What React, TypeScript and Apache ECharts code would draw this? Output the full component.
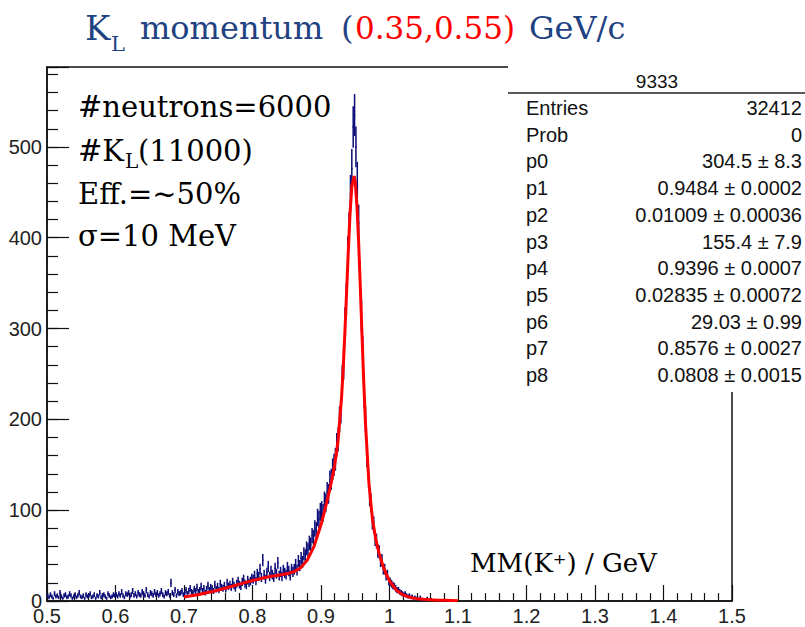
import React, { useEffect, useRef } from "react";
import * as echarts from "echarts";

// ---- Histogram: bin layout (0.5 .. 1.1 GeV, width 0.002) ----
const BIN_START = 0.5;
const BIN_WIDTH = 0.002;

// counts per bin, grouped by x-range
const counts050to060 = [6,4,7,5,3,8,5,6,4,9, 5,3,6,7,4,5,8,6,3,5, 7,4,6,9,5,4,6,3,7,5, 6,8,4,5,7,3,6,5,9,4, 6,7,5,3,8,6,4,5,7,6];
const counts060to070 = [7,5,8,6,10,6,4,8,7,9, 5,7,11,6,8,5,9,7,6,10, 8,6,12,7,5,9,8,6,10,7, 9,6,8,11,7,5,9,8,10,6, 20,9,7,12,6,10,8,9,11,7];
const counts070to080 = [9,12,8,11,14,10,9,13,11,15, 10,12,16,11,14,9,13,17,12,15, 14,11,18,13,16,12,19,15,14,17, 13,20,16,18,15,21,17,14,19,22, 18,16,21,24,19,17,23,20,22,25];
const counts080to086 = [24,28,22,30,27,35,26,45,29,24, 31,38,27,33,29,26,36,30,42,28, 32,27,34,31,29,37,33,28,35,32];
const counts086to090 = [35,40,34,44,39,47,43,52,50,58, 56,64,62,72,70,80,78,92,90,98];
const counts090to094 = [100,97,110,108,120,118,132,134,145,150, 156,172,178,200,210,244,260,306,332,382];
const counts094to096 = [408,448,476,522,535,500,462,416,356,314];
const counts096to100 = [275,228,200,160,146,115,108,88,84,69, 66,55,54,44,45,35,35,28,29,22];
const counts100to110 = [21,19,17,16,14,12,12,10,9,8, 7,8,6,5,6,4,5,3,4,3, 3,2,4,2,2,1,2,3,1,1, 2,0,1,1,0,1,0,0,1,0, 0,0,1,0,0,0,0,0,0,0];

// ---- Fit curve ----
const fitX = [0.70,0.72,0.74,0.76,0.78,0.80,0.82,0.84,0.85,0.86,0.87,0.88,0.89,0.90,0.905,0.91,0.915,0.92,0.925,0.93,0.9325,0.935,0.9375,0.94,0.9425,0.945,0.9484,0.95,0.9525,0.955,0.9575,0.96,0.9625,0.965,0.97,0.975,0.98,0.985,0.99,0.995,1.00,1.01,1.02,1.03,1.04,1.05,1.06,1.07,1.08,1.09,1.10];
const fitY = [4.3,6.8,10.1,14.0,18.3,22.5,26.1,28.7,30.0,32.1,36.3,45.0,60.4,83.9,98.3,113.8,130.5,149.7,177.3,223.9,257.5,297.8,342.7,388.0,427.9,456.5,468.0,461.1,435.1,394.0,343.5,290.2,239.4,194.7,129.3,90.8,67.8,51.9,39.6,29.9,22.2,12.0,6.6,3.9,2.6,1.8,1.3,0.9,0.7,0.5,0.3];

// ---- Axes ----
const X_MIN = 0.5, X_MAX = 1.5, X_STEP = 0.1;
const Y_MIN = 0, Y_MAX = 588, Y_STEP = 100, Y_MINOR = 20;

// ---- Stats box ----
const statsTitle = "9333";
const statsLabels = ["Entries", "Prob", "p0", "p1", "p2", "p3", "p4", "p5", "p6", "p7", "p8"];
const statsValues = ["32412", "0", "304.5 ± 8.3", "0.9484 ± 0.0002", "0.01009 ± 0.00036", "155.4 ± 7.9", "0.9396 ± 0.0007", "0.02835 ± 0.00072", "29.03 ± 0.99", "0.8576 ± 0.0027", "0.0808 ± 0.0015"];

// ---- Annotations ----
const noteLines = ["#neutrons=6000", "Eff.=~50%", "σ=10 MeV"];

const NAVY = "#0c0c78";
const TITLE_BLUE = "#1f4282";
const SERIF = "DejaVu Serif";
const SANS = "Liberation Sans";

function txt(text: string, x: number, y: number, size: number, fill: string, family: string, align = "left", extra: any = {}) {
  return {
    type: "text",
    x,
    y,
    z: 100,
    style: {
      text,
      fill,
      fontSize: size,
      fontFamily: family,
      align,
      textAlign: align,
      verticalAlign: "middle",
      textVerticalAlign: "middle",
      ...extra,
    },
  };
}

export default function App() {
  const ref = useRef<HTMLDivElement>(null);

  useEffect(() => {
    if (!ref.current) return;
    const chart = echarts.init(ref.current, null, { renderer: "svg" });

    const allCounts = [
      ...counts050to060, ...counts060to070, ...counts070to080, ...counts080to086,
      ...counts086to090, ...counts090to094, ...counts094to096, ...counts096to100, ...counts100to110,
    ];
    const histData = allCounts.map((c, i) => [BIN_START + (i + 0.5) * BIN_WIDTH, c]);
    const fitData = fitX.map((x, i) => [x, fitY[i]]);

    const statsRowY0 = 108;
    const statsRowDy = 26.7;
    const statsChildren: any[] = [
      { type: "rect", shape: { x: 508, y: 58, width: 300, height: 334 }, style: { fill: "#ffffff" }, z: 99 },
      txt(statsTitle, 657, 81, 19, "#111", SANS, "center"),
      { type: "line", z: 100, shape: { x1: 508, y1: 93, x2: 805, y2: 93 }, style: { stroke: "#222", lineWidth: 1.5 } },
    ];
    statsLabels.forEach((lab, i) => {
      const y = statsRowY0 + i * statsRowDy;
      statsChildren.push(txt(lab, 526, y, 20, "#111", SANS, "left"));
      statsChildren.push(txt(statsValues[i], 802, y, 20, "#111", SANS, "right"));
    });

    const option: any = {
      animation: false,
      grid: {
        left: 47, right: 73, top: 67, bottom: 26,
        show: true, borderColor: "#111", borderWidth: 1.5, backgroundColor: "transparent",
      },
      xAxis: {
        type: "value",
        min: X_MIN, max: X_MAX, interval: X_STEP,
        axisLine: { show: true, lineStyle: { color: "#111", width: 1.5 } },
        axisTick: { show: true, inside: true, length: 16, lineStyle: { color: "#111", width: 1.2 } },
        minorTick: { show: true, splitNumber: 5, length: 8, lineStyle: { color: "#111", width: 1.2 } },
        axisLabel: {
          show: true, margin: 5, color: "#222", fontSize: 20, fontFamily: SANS,
          formatter: (v: number) => String(Math.round(v * 10) / 10),
        },
        splitLine: { show: false },
        minorSplitLine: { show: false },
      },
      yAxis: [
        {
          type: "value", position: "left",
          min: Y_MIN, max: Y_MAX, interval: Y_STEP,
          axisLine: { show: true, lineStyle: { color: "#111", width: 1.5 } },
          axisTick: { show: true, inside: true, length: 22, lineStyle: { color: "#111", width: 1.2 } },
          axisLabel: {
            show: true, margin: 5, color: "#222", fontSize: 20, fontFamily: SANS,
            formatter: (v: number) => (v % Y_STEP === 0 ? String(v) : ""),
          },
          splitLine: { show: false },
        },
        {
          type: "value", position: "left",
          min: Y_MIN, max: Y_MAX, interval: Y_MINOR,
          axisLine: { show: false },
          axisTick: { show: true, inside: true, length: 11, lineStyle: { color: "#111", width: 1.2 } },
          axisLabel: { show: false },
          splitLine: { show: false },
        },
      ],
      series: [
        {
          type: "custom",
          xAxisIndex: 0,
          yAxisIndex: 0,
          z: 2,
          clip: true,
          data: histData,
          encode: { x: 0, y: 1 },
          renderItem: (params: any, api: any) => {
            const x = api.value(0);
            const v = api.value(1);
            if (!(v > 0)) return { type: "group", children: [] };
            const e = Math.sqrt(v);
            const pL = api.coord([x - BIN_WIDTH / 2, v]);
            const pR = api.coord([x + BIN_WIDTH / 2, v]);
            const pLo = api.coord([x, Math.max(0, v - e)]);
            const pHi = api.coord([x, v + e]);
            return {
              type: "group",
              children: [
                { type: "line", shape: { x1: pL[0], y1: pL[1], x2: pR[0], y2: pR[1] }, style: { stroke: NAVY, lineWidth: 1.5 } },
                { type: "line", shape: { x1: pLo[0], y1: pLo[1], x2: pHi[0], y2: pHi[1] }, style: { stroke: NAVY, lineWidth: 1.5 } },
              ],
            };
          },
        },
        {
          type: "line",
          xAxisIndex: 0,
          yAxisIndex: 0,
          z: 3,
          data: fitData,
          showSymbol: false,
          symbol: "none",
          smooth: false,
          lineStyle: { color: "#ff0000", width: 3 },
        },
      ],
      graphic: [
        // title
        txt("K", 85, 28, 34, TITLE_BLUE, SERIF),
        txt("L", 111, 44, 21, TITLE_BLUE, SERIF),
        txt("momentum", 140, 28, 32, TITLE_BLUE, SERIF),
        txt("(", 341, 28, 32, TITLE_BLUE, SERIF),
        txt("0.35,0.55)", 355, 28, 31, "#ff0000", SERIF),
        txt("GeV/c", 529, 28, 32, TITLE_BLUE, SERIF),
        // annotations
        txt(noteLines[0], 78, 107, 29, "#000", SERIF),
        txt("#K", 78, 151, 29, "#000", SERIF),
        txt("L", 125, 161, 20, "#000", SERIF),
        txt("(11000)", 138, 151, 29, "#000", SERIF),
        txt(noteLines[1], 78, 194, 29, "#000", SERIF),
        txt(noteLines[2], 78, 236, 29, "#000", SERIF),
        // x-axis title
        txt("MM(K⁺) / GeV", 470, 563, 26, "#000", SERIF),
        // stats box
        { type: "group", z: 99, children: statsChildren },
      ],
    };

    chart.setOption(option);
    return () => chart.dispose();
  }, []);

  return (
    <div
      ref={ref}
      style={{ position: "absolute", left: 0, top: 0, width: 805, height: 627, background: "#fff" }}
    />
  );
}
